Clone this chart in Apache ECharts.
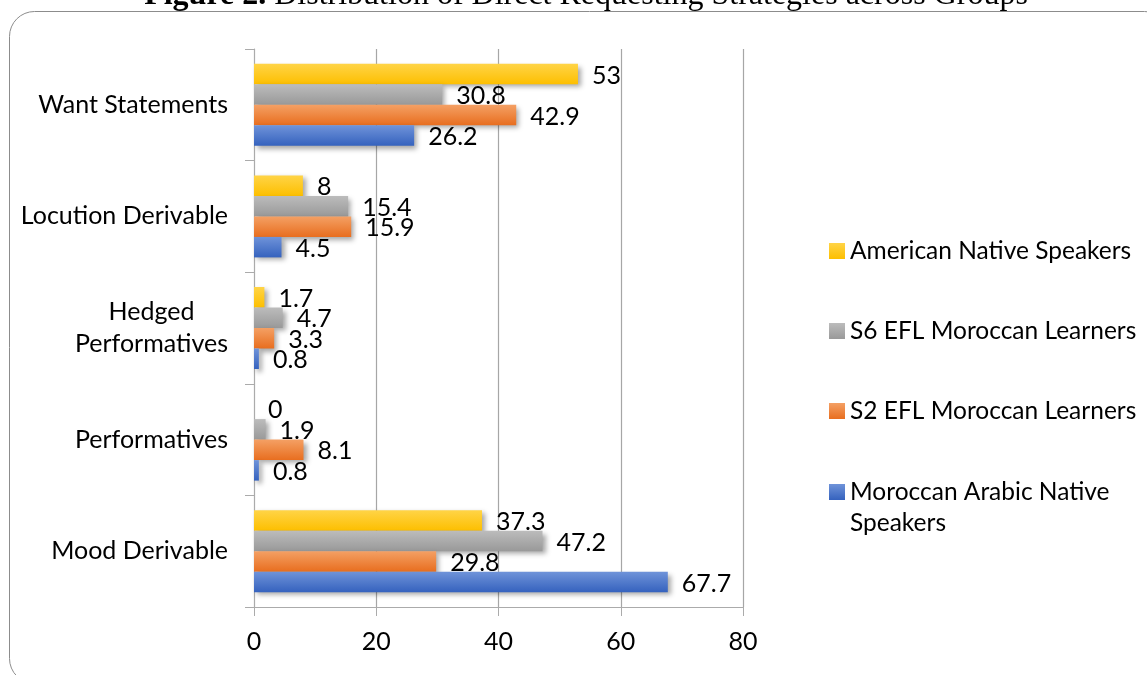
<!DOCTYPE html>
<html>
<head>
<meta charset="utf-8">
<script src="https://cdn.jsdelivr.net/npm/echarts@6/dist/echarts.min.js"></script>
<style>
  html, body { margin: 0; padding: 0; background: #fff; }
  #chart { width: 1147px; height: 675px; }
</style>
</head>
<body>
<div id="chart"></div>
<script>
// Requesting strategies, listed bottom to top on the category axis
const categories = ['Mood Derivable', 'Performatives', 'Hedged Performatives', 'Locution Derivable', 'Want Statements'];

// Percentages per group
const americanNative = [37.3, 0, 1.7, 8, 53];
const s6Learners     = [47.2, 1.9, 4.7, 15.4, 30.8];
const s2Learners     = [29.8, 8.1, 3.3, 15.9, 42.9];
const moroccanNative = [67.7, 0.8, 0.8, 4.5, 26.2];

const seriesNames = [
  'American Native Speakers',
  'S6 EFL Moroccan Learners',
  'S2 EFL Moroccan Learners',
  'Moroccan Arabic Native Speakers'
];

const xTicks = { min: 0, max: 80, interval: 20 };

const FONT = 'Lato';

function grad(top, bottom) {
  return new echarts.graphic.LinearGradient(0, 0, 0, 1, [
    { offset: 0, color: top },
    { offset: 1, color: bottom }
  ]);
}

const fills = [
  grad('#FFD447', '#FDBF00'),
  grad('#BCBCBC', '#999999'),
  grad('#F4A064', '#E86E1F'),
  grad('#6F93D9', '#3562BE')
];

const values = [americanNative, s6Learners, s2Learners, moroccanNative];

const chart = echarts.init(document.getElementById('chart'), null, { renderer: 'canvas' });

const series = values.map((data, i) => ({
  name: seriesNames[i],
  type: 'bar',
  data: data,
  barWidth: 20.5,
  barGap: '0%',
  itemStyle: {
    color: fills[i],
    shadowBlur: 5,
    shadowOffsetX: 3,
    shadowOffsetY: 3,
    shadowColor: 'rgba(0,0,0,0.35)'
  },
  label: {
    show: true,
    position: 'right',
    distance: 14,
    offset: [0, 1.5],
    color: '#000',
    fontFamily: FONT,
    fontSize: 25
  },
  emphasis: { disabled: true },
  animation: false
}));

const legendText = {
  color: '#000',
  fontFamily: FONT,
  fontSize: 24.5,
  lineHeight: 31
};
const legendIcon = {
  shadowBlur: 0, shadowOffsetX: 0, shadowOffsetY: 0, shadowColor: 'rgba(0,0,0,0)'
};

chart.setOption({
  animation: false,
  graphic: [
    {
      type: 'rect',
      shape: { x: 9.5, y: 11.5, width: 1160, height: 672, r: 25 },
      style: { fill: 'none', stroke: '#8C8C8C', lineWidth: 1 },
      silent: true,
      z: -1
    },
    {
      type: 'text',
      x: 586,
      y: 12,
      style: {
        text: '{b|Figure 2.} Distribution of Direct Requesting Strategies across Groups',
        align: 'center',
        verticalAlign: 'bottom',
        fontFamily: 'Liberation Serif',
        fontSize: 32,
        fill: '#000',
        rich: {
          b: { fontFamily: 'Liberation Serif', fontSize: 32, fontWeight: 'bold' }
        }
      },
      silent: true
    }
  ],
  grid: { left: 254, right: 404, top: 49, bottom: 68, containLabel: false },
  xAxis: {
    type: 'value',
    min: xTicks.min,
    max: xTicks.max,
    interval: xTicks.interval,
    axisLine: { show: true, lineStyle: { color: '#ABABAB', width: 1 } },
    axisTick: { show: true, length: 9, lineStyle: { color: '#ABABAB' } },
    splitLine: { show: true, lineStyle: { color: '#A6A6A6', width: 1.2 } },
    axisLabel: { color: '#000', fontFamily: FONT, fontSize: 25, margin: 22 }
  },
  yAxis: {
    type: 'category',
    data: categories,
    axisLine: { show: true, lineStyle: { color: '#ABABAB', width: 1 } },
    axisTick: { show: true, length: 9, lineStyle: { color: '#ABABAB' } },
    axisLabel: {
      color: '#000',
      fontFamily: FONT,
      fontSize: 25,
      margin: 26,
      lineHeight: 32,
      formatter: function (v) {
        const lines = v.length > 19 ? v.split(' ') : [v];
        return lines.map(s => '{c|' + s + '}').join('\n');
      },
      rich: { c: { align: 'center', fontFamily: FONT, fontSize: 25, lineHeight: 32, color: '#000' } }
    }
  },
  legend: [
    {
      orient: 'vertical',
      left: 829,
      top: 235.5,
      padding: 0,
      itemWidth: 16,
      itemHeight: 16,
      itemGap: 49,
      icon: 'rect',
      selectedMode: false,
      data: seriesNames.slice(0, 3),
      textStyle: legendText,
      itemStyle: legendIcon
    },
    {
      orient: 'vertical',
      left: 829,
      top: 445.5,
      padding: 0,
      itemWidth: 16,
      itemHeight: 16,
      icon: 'rect',
      selectedMode: false,
      data: [seriesNames[3]],
      // an empty first line keeps the icon beside the name's first line
      formatter: function (n) { return ' \n' + n.replace('Native ', 'Native\n'); },
      textStyle: legendText,
      itemStyle: legendIcon
    }
  ],
  series: series
});
</script>
</body>
</html>
